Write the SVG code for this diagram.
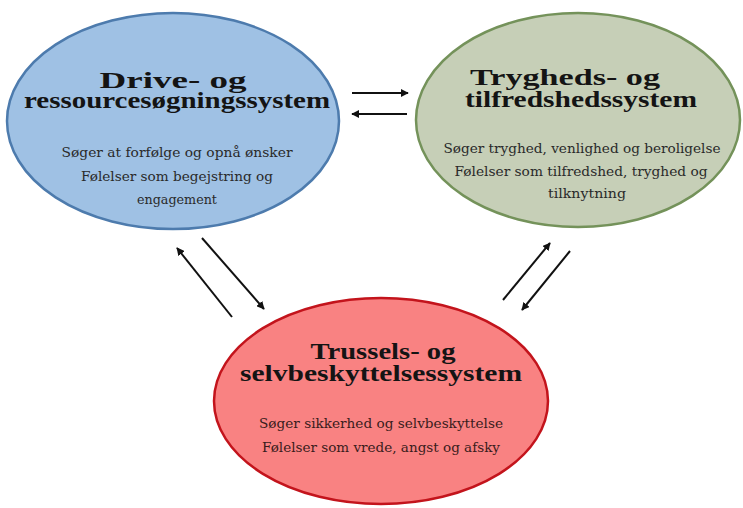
<svg xmlns="http://www.w3.org/2000/svg" width="743" height="508" viewBox="0 0 743 508">
<defs>
<marker id="ah" viewBox="0 0 10 10" refX="9" refY="5" markerWidth="8" markerHeight="8" markerUnits="userSpaceOnUse" orient="auto">
<path d="M0,0 L10,5 L0,10 z" fill="#111"/>
</marker>
</defs>
<style>
.title{font-family:"Liberation Serif","DejaVu Serif",serif;font-weight:bold;font-size:24px;fill:#141414;text-anchor:middle}
.body{font-family:"DejaVu Serif","Liberation Serif",serif;font-size:12.5px;fill:#2a2a2a;text-anchor:middle}
.rbody{fill:#3a1c1c}
.conn line{stroke:#111;stroke-width:2;marker-end:url(#ah)}
</style>
<rect width="743" height="508" fill="#fff"/>
<g id="drive">
<ellipse cx="173" cy="121" rx="166" ry="108" fill="#9fc1e4" stroke="#4d7bad" stroke-width="2.5"/>
<text class="title" x="173" y="88" textLength="147" lengthAdjust="spacingAndGlyphs">Drive- og</text>
<text class="title" x="177" y="108" textLength="306" lengthAdjust="spacingAndGlyphs">ressourcesøgningssystem</text>
<text class="body" x="177" y="157" textLength="231" lengthAdjust="spacingAndGlyphs">Søger at forfølge og opnå ønsker</text>
<text class="body" x="177" y="181" textLength="192" lengthAdjust="spacingAndGlyphs">Følelser som begejstring og</text>
<text class="body" x="177" y="204" textLength="80" lengthAdjust="spacingAndGlyphs">engagement</text>
</g>
<g id="tryghed">
<ellipse cx="578" cy="120" rx="162" ry="107" fill="#c6cfb7" stroke="#74925a" stroke-width="2.5"/>
<text class="title" x="565" y="85" textLength="190" lengthAdjust="spacingAndGlyphs">Trygheds- og</text>
<text class="title" x="581" y="107" textLength="232" lengthAdjust="spacingAndGlyphs">tilfredshedssystem</text>
<text class="body" x="582" y="153" textLength="277" lengthAdjust="spacingAndGlyphs">Søger tryghed, venlighed og beroligelse</text>
<text class="body" x="581" y="176" textLength="253" lengthAdjust="spacingAndGlyphs">Følelser som tilfredshed, tryghed og</text>
<text class="body" x="587" y="198" textLength="78" lengthAdjust="spacingAndGlyphs">tilknytning</text>
</g>
<g id="trussel">
<ellipse cx="381" cy="401" rx="167" ry="103" fill="#f98282" stroke="#c3141c" stroke-width="2.5"/>
<text class="title" x="383" y="359" textLength="145" lengthAdjust="spacingAndGlyphs">Trussels- og</text>
<text class="title" x="381" y="381" textLength="282" lengthAdjust="spacingAndGlyphs">selvbeskyttelsessystem</text>
<text class="body rbody" x="381" y="428" textLength="244" lengthAdjust="spacingAndGlyphs">Søger sikkerhed og selvbeskyttelse</text>
<text class="body rbody" x="381" y="452" textLength="238" lengthAdjust="spacingAndGlyphs">Følelser som vrede, angst og afsky</text>
</g>
<g id="connectors" class="conn">
<line x1="352" y1="93" x2="408" y2="93"/>
<line x1="407" y1="114" x2="352" y2="114"/>
<line x1="232" y1="317" x2="177" y2="248"/>
<line x1="202" y1="238" x2="264" y2="309"/>
<line x1="503" y1="300" x2="550" y2="243"/>
<line x1="570" y1="251" x2="522" y2="310"/>
</g>
</svg>
